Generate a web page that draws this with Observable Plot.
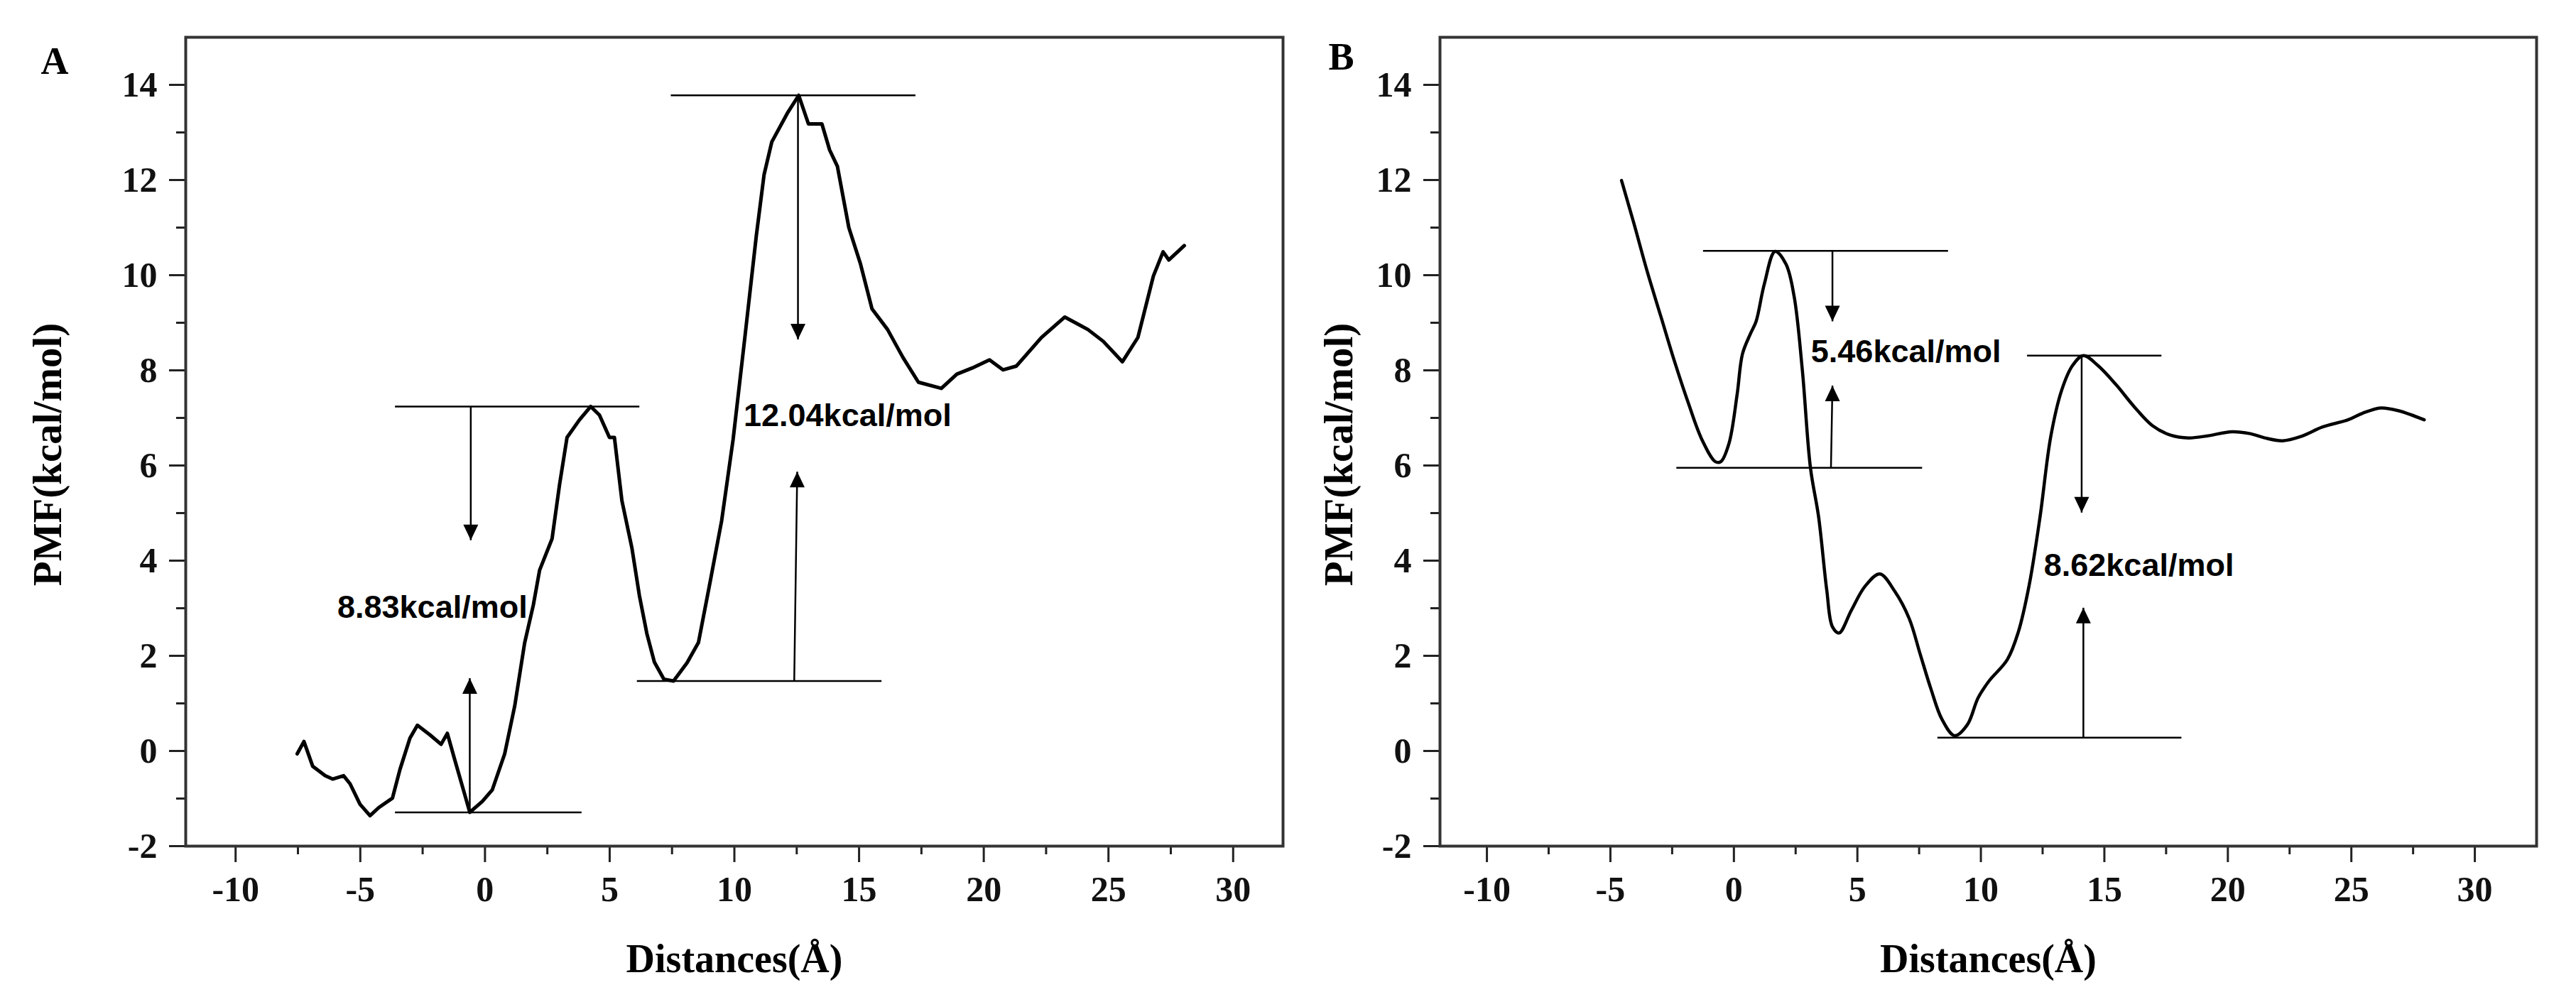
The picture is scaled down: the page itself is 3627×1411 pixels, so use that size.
<!DOCTYPE html>
<html>
<head>
<meta charset="utf-8">
<script src="https://cdn.jsdelivr.net/npm/d3@7"></script>
<script src="https://cdn.jsdelivr.net/npm/@observablehq/plot@0.6"></script>
<style>
  html, body { margin: 0; padding: 0; background: #fff; }
  #wrap { position: relative; width: 3627px; height: 1411px; background: #fff; }
  #pa { position: absolute; left: 0; top: 0; width: 1813px; height: 1411px; }
  #pb { position: absolute; left: 1813px; top: 0; width: 1814px; height: 1411px; }
</style>
</head>
<body>
<div id="wrap"><div id="pa"></div><div id="pb"></div></div>
<script>
// ---------- Data ----------
// Panel A PMF curve
const xA = [-7.53,-7.26,-6.91,-6.41,-6.11,-5.67,-5.41,-5.01,-4.61,-4.26,-3.71,-3.41,-3.01,-2.71,-2.21,-1.76,-1.51,-1.21,-0.81,-0.61,-0.11,0.29,0.79,1.19,1.59,1.94,2.19,2.69,2.99,3.29,3.79,4.24,4.59,4.99,5.19,5.49,5.89,6.19,6.49,6.79,7.17,7.56,8.10,8.56,9.03,9.49,9.95,10.42,10.88,11.19,11.50,12.12,12.58,12.97,13.51,13.82,14.13,14.59,15.06,15.52,16.14,16.76,17.38,18.30,18.92,19.54,20.23,20.77,21.31,22.31,23.25,24.17,24.79,25.56,26.18,26.80,27.19,27.42,28.04];
const yA = [-0.06,0.20,-0.32,-0.52,-0.59,-0.52,-0.69,-1.12,-1.36,-1.19,-0.99,-0.39,0.27,0.54,0.34,0.14,0.37,-0.19,-0.92,-1.29,-1.06,-0.82,-0.06,0.94,2.27,3.07,3.80,4.46,5.60,6.59,6.96,7.24,7.06,6.59,6.59,5.26,4.27,3.27,2.47,1.87,1.51,1.47,1.85,2.28,3.56,4.84,6.55,8.69,10.83,12.11,12.80,13.40,13.78,13.18,13.18,12.63,12.29,11.00,10.23,9.29,8.86,8.27,7.75,7.62,7.92,8.05,8.22,8.01,8.09,8.69,9.12,8.86,8.61,8.18,8.69,9.98,10.49,10.32,10.62];
// Panel B PMF curve
const xB = [-4.55,-4.05,-3.50,-2.95,-2.40,-1.85,-1.30,-0.75,-0.53,-0.20,0.13,0.35,0.68,0.90,1.23,1.67,2.11,2.44,2.77,3.10,3.43,3.76,3.99,4.26,4.75,5.31,5.91,6.52,7.10,7.54,7.98,8.42,8.94,9.45,9.89,10.33,11.07,11.51,11.95,12.39,12.83,13.27,13.71,14.15,14.74,15.47,16.20,16.94,17.67,18.41,19.14,20.17,20.90,21.49,22.22,22.96,23.84,24.87,25.46,26.19,26.92,27.95];
const yB = [11.99,11.09,10.06,9.12,8.18,7.32,6.55,6.08,6.08,6.46,7.49,8.35,8.78,9.03,9.81,10.50,10.23,9.55,8.01,5.95,4.92,3.38,2.61,2.48,2.95,3.46,3.72,3.35,2.78,2.04,1.30,0.67,0.32,0.55,1.12,1.47,1.92,2.49,3.47,4.90,6.61,7.58,8.10,8.31,8.10,7.70,7.24,6.84,6.64,6.58,6.62,6.71,6.67,6.58,6.52,6.61,6.81,6.96,7.10,7.21,7.15,6.96];

// Axis ticks
const xMajor = [-10, -5, 0, 5, 10, 15, 20, 25, 30];
const xMinor = [-7.5, -2.5, 2.5, 7.5, 12.5, 17.5, 22.5, 27.5];
const yMajor = [-2, 0, 2, 4, 6, 8, 10, 12, 14];
const yMinor = [-1, 1, 3, 5, 7, 9, 11, 13];

// Annotation guide lines (horizontal): x start, x end, level
const hA_x1 = [-3.61, -3.61, 6.09, 7.45];
const hA_x2 = [6.19, 3.87, 15.9, 17.26];
const hA_y  = [7.24, -1.29, 1.47, 13.78];
const hB_x1 = [-1.25, -2.33, 11.87, 8.24];
const hB_x2 = [8.67, 7.62, 17.31, 18.12];
const hB_y  = [10.51, 5.95, 8.31, 0.28];

// Arrows: start (x1,y1) to tip (x2,y2); dir: "down" or "up"
const arA_x1 = [-0.57, -0.61, 12.55, 12.40];
const arA_y1 = [7.24, -1.29, 13.78, 1.47];
const arA_x2 = [-0.57, -0.61, 12.55, 12.52];
const arA_y2 = [4.43, 1.53, 8.65, 5.87];
const arA_dir = ["down", "up", "down", "up"];
const arB_x1 = [3.99, 3.93, 14.08, 14.15];
const arB_y1 = [10.51, 5.95, 8.31, 0.28];
const arB_x2 = [3.99, 3.99, 14.08, 14.15];
const arB_y2 = [9.03, 7.68, 5.01, 3.01];
const arB_dir = ["down", "up", "down", "up"];

// Energy labels
const labA_text = ["8.83kcal/mol", "12.04kcal/mol"];
const labA_x = [-5.92, 10.37];
const labA_y = [3.02, 7.04];
const labB_text = ["5.46kcal/mol", "8.62kcal/mol"];
const labB_x = [3.12, 12.55];
const labB_y = [8.38, 3.89];

const xTitle = "Distances(Å)";
const yTitle = "PMF(kcal/mol)";

// ---------- Rendering ----------
const SERIF = "'Liberation Serif', 'Times New Roman', serif";
const SANS = "'Liberation Sans', Arial, sans-serif";

// filled arrowheads whose tip sits at the anchor point
const headDown = {draw(ctx) { ctx.moveTo(0, 0); ctx.lineTo(-10.5, -22); ctx.lineTo(10.5, -22); ctx.closePath(); }};
const headUp = {draw(ctx) { ctx.moveTo(0, 0); ctx.lineTo(-10.5, 22); ctx.lineTo(10.5, 22); ctx.closePath(); }};

function makePanel(cfg) {
  const curveData = cfg.xs.map((x, i) => ({x, y: cfg.ys[i]}));
  const hLines = cfg.hx1.map((x1, i) => ({x1, x2: cfg.hx2[i], y: cfg.hy[i]}));
  const arrows = cfg.ax1.map((x1, i) => ({x1, y1: cfg.ay1[i], x2: cfg.ax2[i], y2: cfg.ay2[i], dir: cfg.adir[i]}));
  const labels = cfg.lt.map((t, i) => ({t, x: cfg.lx[i], y: cfg.ly[i]}));
  return Plot.plot({
    width: cfg.width,
    height: 1411,
    marginLeft: cfg.marginLeft,
    marginRight: cfg.marginRight,
    marginTop: 52,
    marginBottom: 220,
    style: {background: "white", maxWidth: "none"},
    x: {domain: cfg.xDomain},
    y: {domain: [-2, 15]},
    marks: [
      Plot.axisX({ticks: xMajor, tickSize: 23, tickPadding: 19, strokeWidth: 3, stroke: "#222",
        fontFamily: SERIF, fontWeight: "bold", fontSize: 50, fill: "#111", label: null, tickFormat: d => String(d)}),
      Plot.axisX({ticks: xMinor, tickSize: 12, strokeWidth: 3, stroke: "#222", label: null, tickFormat: () => ""}),
      Plot.axisY({ticks: yMajor, tickSize: 23, tickPadding: 17, strokeWidth: 3, stroke: "#222",
        fontFamily: SERIF, fontWeight: "bold", fontSize: 50, fill: "#111", label: null, tickFormat: d => String(d)}),
      Plot.axisY({ticks: yMinor, tickSize: 13, strokeWidth: 3, stroke: "#222", label: null, tickFormat: () => ""}),
      Plot.frame({stroke: "#333", strokeWidth: 4}),
      Plot.link(hLines, {x1: "x1", x2: "x2", y1: "y", y2: "y", stroke: "black", strokeWidth: 2.5}),
      Plot.link(arrows, {x1: "x1", y1: "y1", x2: "x2", y2: "y2", stroke: "black", strokeWidth: 2.5}),
      Plot.dot(arrows.filter(d => d.dir === "down"), {x: "x2", y: "y2", symbol: headDown, fill: "black", stroke: "none"}),
      Plot.dot(arrows.filter(d => d.dir === "up"), {x: "x2", y: "y2", symbol: headUp, fill: "black", stroke: "none"}),
      Plot.line(curveData, {x: "x", y: "y", curve: cfg.curve, stroke: "black", strokeWidth: cfg.lineWidth}),
      Plot.text(labels, {x: "x", y: "y", text: "t", textAnchor: "start", lineAnchor: "middle",
        fontFamily: SANS, fontWeight: "bold", fontSize: 45, fill: "black"}),
      Plot.text([cfg.letter], {text: d => d, frameAnchor: "top-left", textAnchor: "start", lineAnchor: "bottom",
        dx: cfg.letterDx, dy: cfg.letterDy, fontFamily: SERIF, fontWeight: "bold", fontSize: 54, fill: "black"}),
      Plot.text([yTitle], {text: d => d, frameAnchor: "left", rotate: -90, textAnchor: "middle", lineAnchor: "middle",
        dx: cfg.yTitleDx, dy: 18, fontFamily: SERIF, fontWeight: "bold", fontSize: 57, fill: "black"}),
      Plot.text([xTitle], {text: d => d, frameAnchor: "bottom", textAnchor: "middle", lineAnchor: "bottom",
        dy: 177, fontFamily: SERIF, fontWeight: "bold", fontSize: 56, fill: "black"})
    ]
  });
}

document.getElementById("pa").append(makePanel({
  xs: xA, ys: yA, curve: "linear", xDomain: [-12, 32], lineWidth: 5,
  width: 1813, marginLeft: 261, marginRight: 7,
  hx1: hA_x1, hx2: hA_x2, hy: hA_y,
  ax1: arA_x1, ay1: arA_y1, ax2: arA_x2, ay2: arA_y2, adir: arA_dir,
  lt: labA_text, lx: labA_x, ly: labA_y,
  letter: "A", letterDx: -204, letterDy: 51, yTitleDx: -194
}));

document.getElementById("pb").append(makePanel({
  xs: xB, ys: yB, curve: "catmull-rom", xDomain: [-11.9, 32.5], lineWidth: 4.5,
  width: 1814, marginLeft: 214, marginRight: 56,
  hx1: hB_x1, hx2: hB_x2, hy: hB_y,
  ax1: arB_x1, ay1: arB_y1, ax2: arB_x2, ay2: arB_y2, adir: arB_dir,
  lt: labB_text, lx: labB_x, ly: labB_y,
  letter: "B", letterDx: -157, letterDy: 45, yTitleDx: -142
}));
</script>
</body>
</html>
